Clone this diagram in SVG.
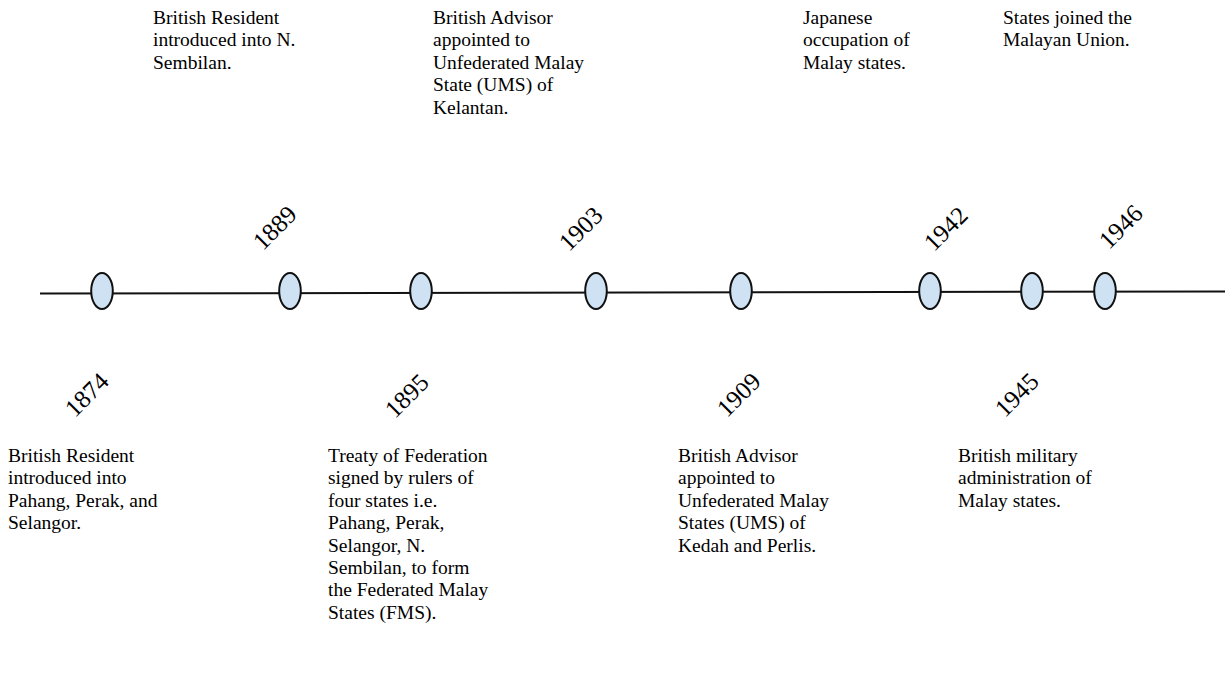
<svg xmlns="http://www.w3.org/2000/svg" width="1225" height="685" viewBox="0 0 1225 685">
<style>
  .bg { fill: #ffffff; }
  .axis { stroke: #111111; stroke-width: 2; fill: none; }
  .dot { fill: #cfe2f3; stroke: #111111; stroke-width: 2; }
  .desc { font-family: "Liberation Serif", "Times New Roman", serif; font-size: 19.5px; fill: #000000; }
  .year { font-family: "Liberation Serif", "Times New Roman", serif; font-size: 25px; fill: #000000; text-anchor: middle; }
</style>
<rect class="bg" x="0" y="0" width="1225" height="685"/>
<g id="connectors">
  <line class="axis" x1="40" y1="293.5" x2="1225" y2="291.5"/>
</g>
<g id="e1874">
  <ellipse class="dot" cx="102" cy="291" rx="10.8" ry="18"/>
  <text class="year" transform="translate(87,395) rotate(-45)" x="0" y="8">1874</text>
  <text class="desc">
    <tspan x="8" y="462">British Resident</tspan>
    <tspan x="8" y="484.4">introduced into</tspan>
    <tspan x="8" y="506.8">Pahang, Perak, and</tspan>
    <tspan x="8" y="529.2">Selangor.</tspan>
  </text>
</g>
<g id="e1889">
  <ellipse class="dot" cx="290" cy="291" rx="10.8" ry="18"/>
  <text class="year" transform="translate(275,228) rotate(-45)" x="0" y="8">1889</text>
  <text class="desc">
    <tspan x="153" y="24">British Resident</tspan>
    <tspan x="153" y="46.4">introduced into N.</tspan>
    <tspan x="153" y="68.8">Sembilan.</tspan>
  </text>
</g>
<g id="e1895">
  <ellipse class="dot" cx="421" cy="291" rx="10.8" ry="18"/>
  <text class="year" transform="translate(407,396) rotate(-45)" x="0" y="8">1895</text>
  <text class="desc">
    <tspan x="328" y="462">Treaty of Federation</tspan>
    <tspan x="328" y="484.4">signed by rulers of</tspan>
    <tspan x="328" y="506.8">four states i.e.</tspan>
    <tspan x="328" y="529.2">Pahang, Perak,</tspan>
    <tspan x="328" y="551.6">Selangor, N.</tspan>
    <tspan x="328" y="574">Sembilan, to form</tspan>
    <tspan x="328" y="596.4">the Federated Malay</tspan>
    <tspan x="328" y="618.8">States (FMS).</tspan>
  </text>
</g>
<g id="e1903">
  <ellipse class="dot" cx="596" cy="291" rx="10.8" ry="18"/>
  <text class="year" transform="translate(581,229) rotate(-45)" x="0" y="8">1903</text>
  <text class="desc">
    <tspan x="433" y="24">British Advisor</tspan>
    <tspan x="433" y="46.4">appointed to</tspan>
    <tspan x="433" y="68.8">Unfederated Malay</tspan>
    <tspan x="433" y="91.2">State (UMS) of</tspan>
    <tspan x="433" y="113.6">Kelantan.</tspan>
  </text>
</g>
<g id="e1909">
  <ellipse class="dot" cx="741" cy="291" rx="10.8" ry="18"/>
  <text class="year" transform="translate(739,395) rotate(-45)" x="0" y="8">1909</text>
  <text class="desc">
    <tspan x="678" y="462">British Advisor</tspan>
    <tspan x="678" y="484.4">appointed to</tspan>
    <tspan x="678" y="506.8">Unfederated Malay</tspan>
    <tspan x="678" y="529.2">States (UMS) of</tspan>
    <tspan x="678" y="551.6">Kedah and Perlis.</tspan>
  </text>
</g>
<g id="e1942">
  <ellipse class="dot" cx="930" cy="291" rx="10.8" ry="18"/>
  <text class="year" transform="translate(946,229) rotate(-45)" x="0" y="8">1942</text>
  <text class="desc">
    <tspan x="803" y="24">Japanese</tspan>
    <tspan x="803" y="46.4">occupation of</tspan>
    <tspan x="803" y="68.8">Malay states.</tspan>
  </text>
</g>
<g id="e1945">
  <ellipse class="dot" cx="1032" cy="291" rx="10.8" ry="18"/>
  <text class="year" transform="translate(1017,395) rotate(-45)" x="0" y="8">1945</text>
  <text class="desc">
    <tspan x="958" y="462">British military</tspan>
    <tspan x="958" y="484.4">administration of</tspan>
    <tspan x="958" y="506.8">Malay states.</tspan>
  </text>
</g>
<g id="e1946">
  <ellipse class="dot" cx="1105" cy="291" rx="10.8" ry="18"/>
  <text class="year" transform="translate(1121,227) rotate(-45)" x="0" y="8">1946</text>
  <text class="desc">
    <tspan x="1003" y="24">States joined the</tspan>
    <tspan x="1003" y="46.4">Malayan Union.</tspan>
  </text>
</g>
</svg>
